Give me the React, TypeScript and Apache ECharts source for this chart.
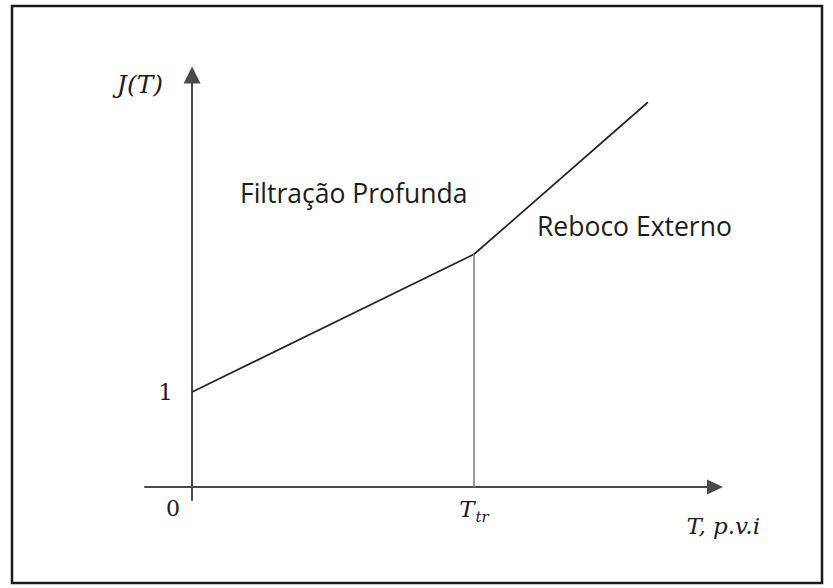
import React, { useEffect, useRef } from "react";
import * as echarts from "echarts";

// J(T) curve: deep filtration up to T_tr, then external cake
const curveT = [0, 1, 1.617];
const curveJ = [1, 2.45, 4.05];
const transitionT = 1;
const transitionJ = 2.45;

// axis ranges (x in units of T_tr)
const xRange = [-0.167, 1.855];
const yRange = [-0.137, 4.337];

const yTickValues = [1];
const yTickLabels = ["1"];
const xTickValues = [0, 1];
const xTickLabels = ["{z|0}", "{t|T}{s|tr}"];

const xAxisName = "T, p.v.i";
const yAxisName = "J(T)";
const regionLabels = ["Filtração Profunda", "Reboco Externo"];

const MATH_FONT = "'DejaVu Serif', 'Liberation Serif', serif";
const TEXT_FONT = "'Open Sans', 'Noto Sans', sans-serif";
const INK = "#1c1c1c";
const AXIS = "#4a4a4a";

export default function App() {
  const ref = useRef<HTMLDivElement>(null);

  useEffect(() => {
    document.body.style.margin = "0";
    if (!ref.current) return;
    const chart = echarts.init(ref.current, null, { renderer: "svg" });

    const seriesData = curveT.map((t, i) => [t, curveJ[i]]);

    chart.setOption({
      animation: false,
      backgroundColor: "#ffffff",
      grid: { left: 145, right: 118, top: 75, bottom: 88, containLabel: false },
      xAxis: {
        type: "value",
        min: xRange[0],
        max: xRange[1],
        splitLine: { show: false },
        axisTick: { show: false },
        axisLine: {
          onZero: true,
          lineStyle: { color: AXIS, width: 2 },
          symbol: ["none", "triangle"],
          symbolSize: [15, 16],
        },
        axisLabel: {
          customValues: xTickValues,
          margin: -3,
          formatter: (v: number) => xTickLabels[xTickValues.indexOf(v)] ?? "",
          rich: {
            z: {
              fontFamily: MATH_FONT,
              fontSize: 22,
              color: INK,
              verticalAlign: "top",
              padding: [0, 38, 0, 0],
            },
            t: {
              fontFamily: MATH_FONT,
              fontStyle: "italic",
              fontSize: 23,
              color: INK,
              verticalAlign: "top",
            },
            s: {
              fontFamily: MATH_FONT,
              fontStyle: "italic",
              fontSize: 15,
              color: INK,
              verticalAlign: "top",
              padding: [12, 0, 0, 1],
            },
          },
        },
        name: xAxisName,
        nameLocation: "end",
        nameGap: 45,
        nameTextStyle: {
          fontFamily: MATH_FONT,
          fontStyle: "italic",
          fontSize: 23,
          color: INK,
          align: "right",
          verticalAlign: "top",
          padding: [28, 0, 0, 0],
        },
      },
      yAxis: {
        type: "value",
        min: yRange[0],
        max: yRange[1],
        splitLine: { show: false },
        axisTick: { show: false },
        axisLine: {
          onZero: true,
          lineStyle: { color: AXIS, width: 2 },
          symbol: ["none", "triangle"],
          symbolSize: [17, 17],
        },
        axisLabel: {
          customValues: yTickValues,
          margin: -28,
          fontFamily: MATH_FONT,
          fontSize: 23,
          color: INK,
          formatter: (v: number) => yTickLabels[yTickValues.indexOf(v)] ?? "",
        },
        name: yAxisName,
        nameLocation: "end",
        nameGap: -9,
        nameTextStyle: {
          fontFamily: MATH_FONT,
          fontStyle: "italic",
          fontSize: 25,
          color: INK,
          align: "right",
          verticalAlign: "middle",
          padding: [0, 29, 0, 0],
        },
      },
      series: [
        {
          type: "line",
          data: seriesData,
          symbol: "none",
          lineStyle: { color: "#262626", width: 1.7 },
          markLine: {
            silent: true,
            symbol: ["none", "none"],
            label: { show: false },
            lineStyle: { color: "#8a8a8a", width: 1.7, type: "solid" },
            data: [[{ coord: [transitionT, 0] }, { coord: [transitionT, transitionJ] }]],
          },
        },
      ],
      graphic: [
        {
          type: "rect",
          shape: { x: 12, y: 6, width: 810, height: 577 },
          style: { fill: "none", stroke: "#1a1a1a", lineWidth: 2.5 },
          silent: true,
        },
        {
          type: "text",
          x: 240,
          y: 193,
          style: {
            text: regionLabels[0],
            fontFamily: TEXT_FONT,
            fontSize: 26.5,
            fill: INK,
            textVerticalAlign: "middle",
          },
        },
        {
          type: "text",
          x: 537,
          y: 226,
          style: {
            text: regionLabels[1],
            fontFamily: TEXT_FONT,
            fontSize: 26.5,
            fill: INK,
            textVerticalAlign: "middle",
          },
        },
      ],
    });

    return () => chart.dispose();
  }, []);

  return <div ref={ref} style={{ width: 833, height: 588 }} />;
}
